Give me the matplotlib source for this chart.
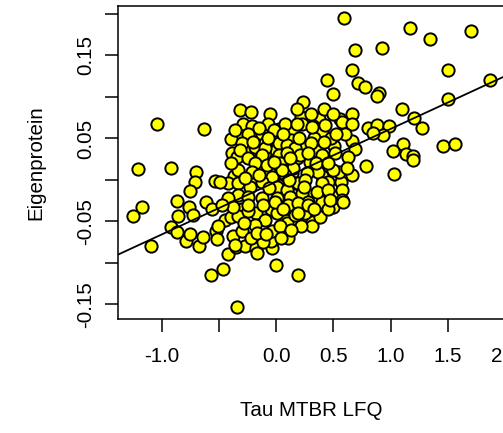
import numpy as np
import matplotlib
matplotlib.use('Agg')
import matplotlib.pyplot as plt

plt.rcParams['font.family'] = ['Liberation Sans', 'DejaVu Sans']

# Tau MTBR LFQ (x) vs Eigenprotein (y)
tau_mtbr_lfq = [
    -1.047, -0.630, -1.213, -0.921, -1.256, -1.178, -1.099, -0.866, -0.857, -0.921,
    -0.871, -0.761, -0.731, -0.790, -0.755, -0.676, -0.639, -0.703, -0.711, -0.755,
    -0.536, -0.615, -0.565, -0.528, -0.521, -0.449, -0.376, -0.420, -0.353, -0.274,
    -0.178, -0.171, -0.040, -0.046, -0.574, -0.469, -0.003, 0.192, -0.346,
    -0.318, -0.219, -0.294, -0.213, -0.055, -0.070, 0.236, 0.213, 0.222, 0.024,
    -0.128, -0.303, -0.399, 0.143, 0.126, 0.257, -0.017, -0.390, -0.230, -0.099,
    -0.005, -0.346, -0.184,
    0.590, 1.170, 1.345, 1.706, 0.691, 0.922, 0.662, 1.500, 0.446, 0.717,
    0.778, 0.899, 0.878, 0.496, 1.872, 1.500, 1.102, 1.207, 1.277, 0.665,
    0.557, 0.577, 0.660, 0.371, 0.805, 0.884, 0.989, 0.936, 0.849, 1.461,
    1.563, 1.106, 1.024, 1.135, 1.199, 0.660, 0.689, 0.625, 0.507, 0.374,
    0.347, 0.324, 0.397,
    0.782, 1.032, 0.660, 0.569, 0.493, 0.397, 0.522, 0.310, 0.266, 1.196, 0.310,
    -0.36, -0.25, -0.15, -0.02, 0.08, 0.30, 0.18, 0.42,
    -0.30, -0.10, 0.02, 0.22, 0.36, 0.48, 0.60,
    -0.37, -0.22, -0.06, 0.02, 0.14, 0.30, 0.55, 0.62,
    -0.40, -0.30, -0.18, -0.05, 0.05, 0.14, 0.25, 0.38, 0.45,
    -0.30, -0.22, -0.12, 0.08, 0.22, 0.10, 0.50, 0.40, 0.33,
    0.178, -0.318, -0.099, 0.091, 0.164, -0.245, -0.128, 0.024, 0.091, 0.178,
    -0.186, -0.084, 0.032, 0.149, -0.332, -0.215, -0.040, 0.076, 0.164, -0.420,
    -0.332, -0.230, -0.128, 0.003, 0.091, -0.493, -0.332, -0.245, -0.128, 0.003,
    0.120, -0.420, -0.332, -0.245, -0.099, 0.003, 0.091, 0.164, -0.186, -0.171,
    -0.040, 0.032, -0.507, -0.361, -0.245, -0.114, -0.011, 0.105, -0.376, -0.478,
    0.310, 0.207, 0.295, 0.397, 0.514, 0.455, 0.367, 0.266, 0.192, 0.499,
    0.397, 0.353, 0.455, 0.572, 0.222, 0.280, 0.470, 0.572, 0.192, 0.280,
    0.586, 0.192,
    0.05, -0.02, 0.11, 0.25, 0.30, -0.15, -0.28, 0.06, 0.20, 0.12,
    -0.06, 0.35, 0.42, 0.45, -0.20, 0.06, -0.07, 0.24, 0.33, 0.13,
    -0.09, 0.04, -0.27, -0.40, 0.28, 0.52, 0.43,
]
eigenprotein = [
    0.068, 0.061, 0.013, 0.015, -0.043, -0.033, -0.079, -0.025, -0.043, -0.057,
    -0.063, -0.032, -0.042, -0.073, -0.065, -0.080, -0.069, 0.010, -0.003, -0.013,
    -0.001, -0.026, -0.035, -0.061, -0.071, -0.048, -0.068, -0.089, -0.081, -0.080,
    -0.082, -0.088, -0.082, -0.074, -0.114, -0.107, -0.103, -0.115, -0.153,
    0.084, 0.082, 0.068, 0.065, 0.080, 0.067, 0.094, 0.076, 0.067, 0.061,
    0.055, 0.053, 0.049, 0.058, 0.048, 0.041, 0.048, 0.033, 0.035, 0.032,
    0.036, 0.028, 0.040,
    0.195, 0.183, 0.170, 0.179, 0.157, 0.159, 0.133, 0.132, 0.120, 0.117,
    0.112, 0.105, 0.101, 0.104, 0.120, 0.098, 0.085, 0.075, 0.062, 0.080,
    0.073, 0.070, 0.068, 0.074, 0.063, 0.066, 0.065, 0.054, 0.057, 0.041,
    0.043, 0.043, 0.035, 0.031, 0.029, 0.047, 0.037, 0.028, 0.041, 0.041,
    0.054, 0.065, 0.059,
    0.017, 0.007, 0.006, -0.002, -0.033, -0.026, -0.020, -0.051, -0.017, 0.024, -0.056,
    0.060, 0.055, 0.062, 0.060, 0.068, 0.080, 0.085, 0.085,
    0.045, 0.045, 0.045, 0.040, 0.035, 0.050, 0.055,
    0.005, -0.002, 0.010, 0.002, 0.008, 0.012, 0.010, 0.015,
    -0.045, -0.035, -0.040, -0.035, -0.018, -0.035, -0.040, -0.045, -0.035,
    -0.062, -0.070, -0.075, -0.048, -0.055, -0.070, 0.080, 0.005, 0.050,
    0.068, 0.036, 0.038, 0.042, 0.038, 0.026, 0.030, 0.030, 0.033, 0.026,
    0.020, 0.018, 0.020, 0.014, 0.012, 0.010, 0.004, 0.006, -0.004, -0.004,
    -0.004, -0.008, -0.002, -0.008, -0.012, -0.002, -0.018, -0.020, -0.022, -0.022,
    -0.020, -0.022, -0.044, -0.038, -0.048, -0.040, -0.052, -0.042, -0.054, -0.064,
    -0.062, -0.056, -0.056, -0.078, -0.030, -0.030, -0.027, -0.030, -0.032, -0.030,
    0.064, 0.030, 0.022, 0.030, 0.032, -0.002, 0.010, 0.008, -0.004, 0.012,
    -0.004, -0.014, -0.012, -0.012, -0.016, -0.026, -0.024, -0.024, -0.028, -0.030,
    -0.026, -0.040,
    0.012, 0.022, 0.000, 0.000, 0.045, 0.006, -0.052, -0.035, 0.050, 0.026,
    -0.010, 0.020, 0.046, 0.020, 0.046, 0.055, 0.050, -0.008, -0.035, -0.060,
    -0.065, -0.070, 0.002, 0.020, 0.033, 0.055, 0.066,
]

# linear fit line as drawn in the picture
fit_slope = 0.0635
fit_intercept = -0.002

x_ticks = [-1.0, -0.5, 0.0, 0.5, 1.0, 1.5, 2.0]
x_ticklabels = ['-1.0', '', '0.0', '0.5', '1.0', '1.5', '2.0']
y_ticks = [-0.15, -0.10, -0.05, 0.0, 0.05, 0.10, 0.15, 0.20]
y_ticklabels = ['-0.15', '', '-0.05', '', '0.05', '', '0.15', '']

fig = plt.figure(figsize=(5.03, 4.33), dpi=100)
ax = fig.add_axes([0.2346, 0.2633, 0.7753, 0.7229])

ax.scatter(tau_mtbr_lfq, eigenprotein, s=78, facecolor='#FFFF00',
           edgecolor='black', linewidths=1.4, zorder=2)
ax.axline((0, fit_intercept), slope=fit_slope, color='black', lw=1.3, zorder=3)

ax.set_xlim(-1.385, 2.027)
ax.set_ylim(-0.1675, 0.2096)

ax.set_xticks(x_ticks)
ax.set_xticklabels(x_ticklabels)
ax.set_yticks(y_ticks)
ax.set_yticklabels(y_ticklabels, rotation=90, va='center')

ax.tick_params(direction='out', length=9.4, width=1.1, labelsize=14.8, color='black')
ax.tick_params(axis='x', pad=11)
ax.tick_params(axis='y', pad=7)
for sp in ax.spines.values():
    sp.set_linewidth(1.1)

ax.set_xlabel('Tau MTBR LFQ', fontsize=14.8)
ax.set_ylabel('Eigenprotein', fontsize=14.8)
ax.xaxis.set_label_coords(0.495, -0.291)
ax.xaxis.label.set_va('center')
ax.yaxis.set_label_coords(-0.21, 0.5)
ax.yaxis.label.set_va('center')

fig.savefig('out.png', dpi=100)
